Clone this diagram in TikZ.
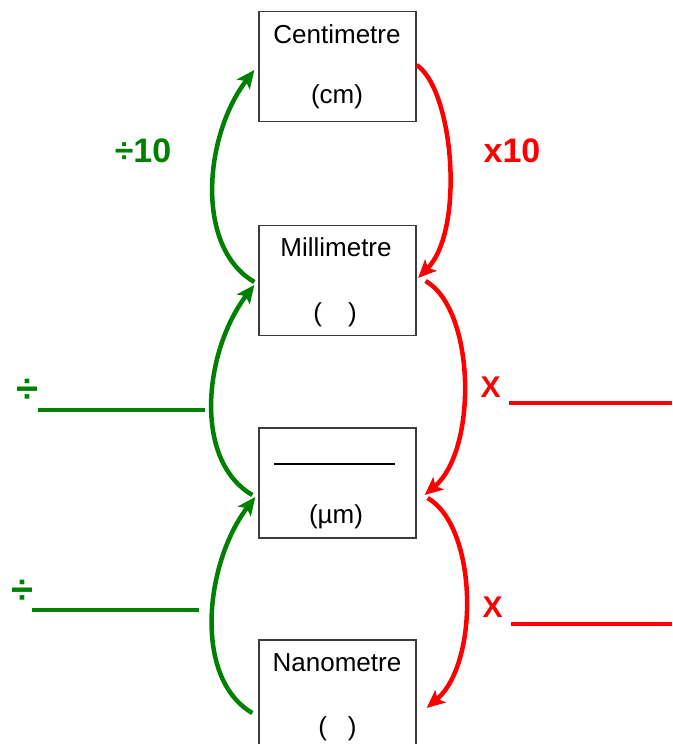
\documentclass[tikz,border=0pt]{standalone}
\usepackage{fontspec}
\setmainfont{Liberation Sans}
\usetikzlibrary{arrows.meta}
\definecolor{divgreen}{RGB}{0,128,0}
\definecolor{mulred}{RGB}{255,0,0}
\definecolor{boxgray}{RGB}{60,60,60}
\begin{document}
\begin{tikzpicture}[x=1pt,y=-1pt,
  unitbox/.style={draw=boxgray, line width=1.3pt, minimum width=157pt,
    minimum height=110pt, inner sep=0pt},
  boxtext/.style={font=\fontsize{26}{30}\selectfont, inner sep=0pt},
  oplabel/.style={font=\fontsize{34}{40}\selectfont\bfseries, inner sep=0pt},
  signlabel/.style={font=\fontsize{40}{44}\selectfont\bfseries, inner sep=0pt},
  xlabel/.style={font=\fontsize{30}{34}\selectfont\bfseries, inner sep=0pt},
  tipshape/.style={-{Stealth[length=18pt,width=16pt,inset=4pt]}},
  greenarc/.style={draw=divgreen, line width=4.5pt, tipshape},
  redarc/.style={draw=mulred, line width=4.5pt, tipshape},
  blank/.style={line width=3.3pt}
]
\useasboundingbox (0,0) rectangle (672,744);

% unit boxes
\node[unitbox] (cm) at (337.5,66.5) {};
\node[unitbox] (mm) at (337.5,280.5) {};
\node[unitbox] (um) at (337.5,483) {};
\node[unitbox] (nm) at (337.5,695) {};

% box contents
\node[boxtext] (cmname) at (337,34) {Centimetre};
\node[boxtext] (cmsym)  at (337,96.5) {(cm)};
\node[boxtext] (mmname) at (336,247.5) {Millimetre};
\node[boxtext] (mmsym)  at (335,314.5) {(\hspace{26pt})};
\coordinate (umL) at (274,464);
\coordinate (umR) at (395,464);
\draw[line width=2.5pt] (umL) -- (umR);
\node[boxtext] (umsym)  at (336,516.5) {(µm)};
\node[boxtext] (nmname) at (337,662.5) {Nanometre};
\node[boxtext] (nmsym)  at (337.5,728.5) {(\hspace{21pt})};

% dividing arcs (left, upward)
\draw[greenarc] ([shift={(-4,1.5)}]mm.west) .. controls +(-60,-35) and +(-50,65) .. ([shift={(-4,3.5)}]cm.west);
\draw[greenarc] ([shift={(-6,12)}]um.west) .. controls +(-60,-35) and +(-50,65) .. ([shift={(-4,4.5)}]mm.west);
\draw[greenarc] ([shift={(-6,18)}]nm.west) .. controls +(-60,-35) and +(-50,65) .. ([shift={(-3,14)}]um.west);

% multiplying arcs (right, downward)
\draw[redarc] ([shift={(0,-1.5)}]cm.east) .. controls +(37,25) and +(47,-48) .. ([shift={(1.5,-2.5)}]mm.east);
\draw[redarc] ([shift={(9,0.5)}]mm.east) .. controls +(50,29) and +(53,-45) .. ([shift={(8,12)}]um.east);
\draw[redarc] ([shift={(11,15)}]um.east) .. controls +(50,29) and +(53,-45) .. ([shift={(10,13)}]nm.east);

% operation labels
\node[oplabel, text=divgreen] (div1) at (143,151) {÷10};
\node[oplabel, text=mulred]   (mul1) at (512,151) {x10};

\node[signlabel, text=divgreen] (div2) at (27.5,391) {÷};
\coordinate (d2a) at (38,410);
\coordinate (d2b) at (205,410);
\draw[blank, divgreen] (d2a) -- (d2b);

\node[signlabel, text=divgreen] (div3) at (22,592) {÷};
\coordinate (d3a) at (32,610);
\coordinate (d3b) at (199,610);
\draw[blank, divgreen] (d3a) -- (d3b);

\node[xlabel, text=mulred] (mul2) at (490.5,387) {X};
\coordinate (m2a) at (509,403);
\coordinate (m2b) at (672,403);
\draw[blank, mulred] (m2a) -- (m2b);

\node[xlabel, text=mulred] (mul3) at (492.5,607.5) {X};
\coordinate (m3a) at (511,624);
\coordinate (m3b) at (672,624);
\draw[blank, mulred] (m3a) -- (m3b);
\end{tikzpicture}
\end{document}
